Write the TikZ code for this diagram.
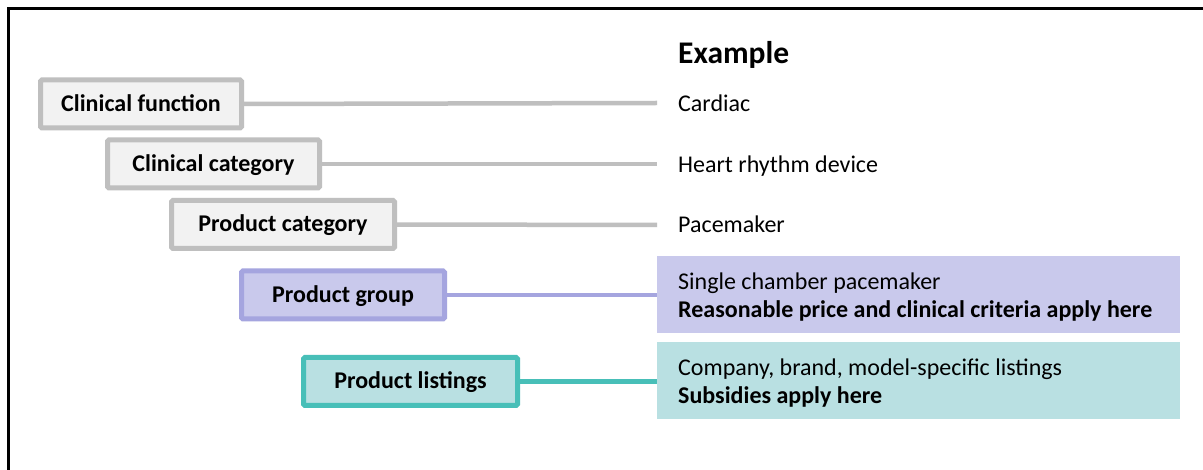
\documentclass[tikz,border=0pt]{standalone}
\usepackage{fontspec}
\setmainfont{Carlito}
\definecolor{grayline}{HTML}{BFBFBF}
\definecolor{grayfill}{HTML}{F2F2F2}
\definecolor{purpline}{HTML}{A5A5DF}
\definecolor{purpfill}{HTML}{C9C9EC}
\definecolor{tealline}{HTML}{48BFB8}
\definecolor{tealfill}{HTML}{B9E0E2}
\tikzset{
  x=1pt, y=-1pt,
  levelbox/.style={draw, line width=5pt, rounded corners=1.5pt, inner sep=0pt, outer sep=0pt,
    minimum height=48pt, text height=18pt, text depth=3.5pt, font=\fontsize{24}{28}\selectfont\bfseries},
  graybox/.style={levelbox, draw=grayline, fill=grayfill},
  purpbox/.style={levelbox, draw=purpline, fill=purpfill},
  tealbox/.style={levelbox, draw=tealline, fill=tealfill},
  conn/.style={line width=4.5pt},
  exbox/.style={anchor=north west, inner sep=0pt, outer sep=0pt, minimum width=523pt, minimum height=77pt},
  extext/.style={anchor=base west, inner sep=0pt, font=\fontsize{24}{28}\selectfont},
  exbold/.style={extext, font=\fontsize{24}{28}\selectfont\bfseries},
}
\begin{document}
\begin{tikzpicture}
\useasboundingbox (0,0) rectangle (1203,470);
\fill[white] (0,0) rectangle (1203,470);
% frame (top and left only)
\draw[line width=3pt] (8,470) -- (8,9) -- (1203,9);

% right example boxes
\node[exbox, fill=purpfill] (pgx) at (657,256) {};
\node[exbox, fill=tealfill] (plx) at (657,342) {};

% left level boxes
\node[graybox, minimum width=201pt] (cf) at (141,104) {Clinical function};
\node[graybox, minimum width=212pt] (cc) at (213.5,164) {Clinical category};
\node[graybox, minimum width=223pt] (pc) at (283,224.5) {Product category};
\node[purpbox, minimum width=203pt] (pg) at (343,295) {Product group};
\node[tealbox, minimum width=214pt] (pl) at (410.5,381.5) {Product listings};

% connector end points
\coordinate (cfe) at (657,103);
\coordinate (cce) at (657,164);
\coordinate (pce) at (657,225);

\draw[conn, grayline] (cf.east) -- (cfe);
\draw[conn, grayline] (cc.east) -- (cce);
\draw[conn, grayline] (pc.east) -- (pce);
\draw[conn, purpline] (pg.east) -- (pgx.west |- pg.east);
\draw[conn, tealline] (pl.east) -- (plx.west |- pl.east);

% example texts
\node[anchor=base west, inner sep=0pt, font=\fontsize{31.5}{36}\selectfont\bfseries] (ex) at (678,64) {Example};
\node[extext] (t1) at (678,112) {Cardiac};
\node[extext] (t2) at (678,173) {Heart rhythm device};
\node[extext] (t3) at (678,233) {Pacemaker};
\node[extext] (t4) at (678,289.5) {Single chamber pacemaker};
\node[exbold] (t5) at (678,317.5) {Reasonable price and clinical criteria apply here};
\node[extext] (t6) at (678,375.5) {Company, brand, model-specific listings};
\node[exbold] (t7) at (678,403.5) {Subsidies apply here};
\end{tikzpicture}
\end{document}
